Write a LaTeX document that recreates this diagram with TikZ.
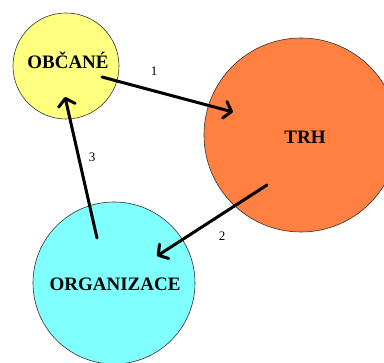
\documentclass[tikz,border=0pt]{standalone}
\usepackage{fontspec}
\setmainfont{Liberation Serif}
\usetikzlibrary{arrows.meta}
\definecolor{cyel}{HTML}{FFFF80}
\definecolor{corg}{HTML}{FF8040}
\definecolor{ccyan}{HTML}{80FFFF}
\begin{document}
\begin{tikzpicture}[x=1pt,y=-1pt,
  blob/.style={circle,draw=black!80,line width=0.6pt,inner sep=0pt},
  ttl/.style={font=\bfseries\fontsize{19}{19}\selectfont},
  flow/.style={line width=3pt,line cap=round,-{Straight Barb[length=7pt,width=17pt,line width=3pt,round]}},
  num/.style={font=\fontsize{13}{13}\selectfont}]
\useasboundingbox (0,0) rectangle (384,363);
\begin{scope}
\clip (0,0) rectangle (384,363);
\node[blob,fill=cyel,minimum size=106pt] (obc) at (66,66) {};
\node[blob,fill=corg,minimum size=194pt] (trh) at (301,135) {};
\node[blob,fill=ccyan,minimum size=162pt] (org) at (114,283) {};
\end{scope}
\node[ttl] (tobc) at (68,60) {OBČANÉ};
\node[ttl] (ttrh) at (305,137) {TRH};
\node[ttl] (torg) at (115,284) {ORGANIZACE};
\coordinate (s1) at (102,77);
\coordinate (e1) at (233,112);
\coordinate (s2) at (267,185);
\coordinate (e2) at (157,256);
\coordinate (s3) at (97,238);
\coordinate (e3) at (65,97);
\draw[flow] (s1) -- (e1);
\draw[flow] (s2) -- (e2);
\draw[flow] (s3) -- (e3);
\node[num] (n1) at (154,71) {1};
\node[num] (n2) at (222,236) {2};
\node[num] (n3) at (92,157) {3};
\end{tikzpicture}
\end{document}
